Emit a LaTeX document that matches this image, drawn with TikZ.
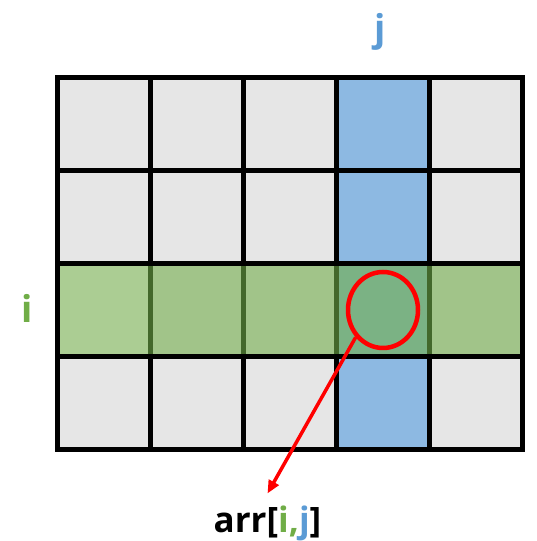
\documentclass[tikz,border=0pt]{standalone}
\usepackage{fontspec}
\setmainfont{Open Sans}
\usepackage{tikz}
\usetikzlibrary{arrows.meta,positioning,shapes.geometric}

\definecolor{cellgray}{HTML}{E6E6E6}
\definecolor{colblue}{HTML}{8DB9E2}
\definecolor{rowgreen}{HTML}{A1C489}
\definecolor{rowgreenlight}{HTML}{ABCD93}
\definecolor{crossgreen}{HTML}{7BB284}
\definecolor{darkgreen}{HTML}{43682B}
\definecolor{labelgreen}{HTML}{70AD47}
\definecolor{labelblue}{HTML}{5B9BD5}

\begin{document}
\begin{tikzpicture}[x=93pt,y=93pt]
		% Styles
		\tikzset{
			gridline/.style={draw=black, line width=4.5pt},
			rowline/.style={draw=darkgreen, line width=4.5pt, shorten <=2.25pt, shorten >=2.25pt},
			marker/.style={ellipse, draw=red, line width=4.5pt, minimum width=70pt, minimum height=76pt, inner sep=0pt},
			pointer/.style={draw=red, line width=3.5pt, -{Triangle[length=13pt,width=11pt]}},
			index/.style={font=\fontsize{37}{40}\selectfont\bfseries, anchor=base, inner sep=0pt},
			access/.style={font=\fontsize{35}{40}\selectfont\bfseries, anchor=base, inner sep=0pt}
		}

		% Frame of the picture
		\useasboundingbox (-0.6183,-0.9839) rectangle (5.1559,4.8333);

		% Cells
		\fill[cellgray] (0,0) rectangle (5,4);
		\fill[colblue] (3,0) rectangle (4,4);
		\fill[rowgreen] (0,1) rectangle (5,2);
		\fill[rowgreenlight] (0,1) rectangle (1,2);
		\fill[crossgreen] (3,1) rectangle (4,2);

		% Grid lines
		\draw[gridline, xstep=93pt, ystep=93pt] (0,0) grid (5,4);
		\draw[gridline] (0,0) rectangle (5,4);
		\draw[rowline] (1,1) -- (1,2);
		\draw[rowline] (2,1) -- (2,2);
		\draw[rowline] (3,1) -- (3,2);
		\draw[rowline] (4,1) -- (4,2);

		% Index labels
		\node[index, text=labelblue] (colj) at (3.468,4.392) {j};
		\node[index, text=labelgreen] (rowi) at (-0.326,1.363) {i};

		% Selected element
		\node[marker] (cell) at (3.5,1.5) {};
		\node[access] (elem) at (2.258,-0.890) {arr[\textcolor{labelgreen}{i,}\textcolor{labelblue}{j}]};
		\draw[pointer] (cell.225) -- ([yshift=12pt]elem.north);

	\end{tikzpicture}
\end{document}
